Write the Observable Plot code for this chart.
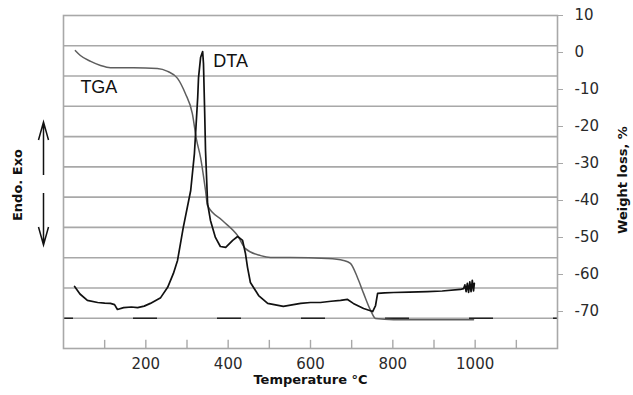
<!DOCTYPE html>
<html>
<head>
<meta charset="utf-8">
<script src="https://cdn.jsdelivr.net/npm/d3@7"></script>
<script src="https://cdn.jsdelivr.net/npm/@observablehq/plot@0.6"></script>
<style>
  html, body { margin: 0; padding: 0; background: #fff; }
  #chart svg { display: block; }
</style>
</head>
<body>
<div id="chart"></div>
<script>
// TGA: temperature (°C) and weight loss (%)
const tgaTemp = [29, 41, 66, 90, 114, 170, 228, 253, 277, 296, 313, 323, 333, 345, 350, 386, 423, 442, 479, 503, 551, 641, 680, 697, 714, 729, 746, 758, 802, 884, 996];
const tgaWeight = [0.5, -0.8, -2.4, -3.5, -4.1, -4.1, -4.3, -5.1, -7.0, -11.1, -16.5, -23.5, -28.4, -37.3, -41.4, -45.4, -49.5, -53.0, -54.9, -55.4, -55.4, -55.7, -56.2, -57.0, -60.8, -65.1, -69.7, -71.9, -72.2, -72.2, -72.2];

// DTA: temperature (°C) and signal (hidden left axis, grid units 0..11)
const dtaTemp = [27, 40, 58, 83, 100, 114, 124, 131, 146, 165, 180, 196, 211, 236, 253, 267, 277, 291, 309, 318, 326, 328, 333, 338, 340, 343, 345, 350, 357, 369, 381, 394, 411, 423, 435, 442, 447, 454, 474, 496, 534, 576, 600, 624, 650, 673, 690, 704, 729, 751, 758, 763, 780, 802, 840, 884, 920, 964, 972, 975, 978, 981, 984, 987, 990, 993, 996, 998];
const dtaSignal = [2.05, 1.80, 1.59, 1.52, 1.50, 1.49, 1.45, 1.29, 1.35, 1.37, 1.35, 1.40, 1.49, 1.68, 2.02, 2.48, 2.91, 4.00, 5.22, 6.44, 8.29, 8.95, 9.61, 9.81, 9.42, 7.76, 6.54, 4.79, 4.23, 3.67, 3.37, 3.34, 3.57, 3.70, 3.57, 3.14, 2.68, 2.18, 1.75, 1.49, 1.39, 1.49, 1.52, 1.52, 1.56, 1.59, 1.62, 1.49, 1.32, 1.22, 1.42, 1.82, 1.84, 1.85, 1.86, 1.88, 1.90, 1.95, 1.98, 2.10, 1.88, 2.15, 1.85, 2.20, 1.88, 2.25, 1.90, 2.15];

// Axis ticks
const xLabelTicks = [200, 400, 600, 800, 1000];
const xMinorTicks = [100, 200, 300, 400, 500, 600, 700, 800, 900, 1000, 1100];
const yTicks = [10, 0, -10, -20, -30, -40, -50, -60, -70];
const dtaGrid = [1, 2, 3, 4, 5, 6, 7, 8, 9, 10];

// map the hidden DTA axis (0..11) onto the weight-loss axis (-80..10)
const yMin = -80, yMax = 10, dtaMax = 11;
const dtaToY = d => yMin + d * (yMax - yMin) / dtaMax;

const tga = tgaTemp.map((t, i) => ({t, v: tgaWeight[i]}));
const dta = dtaTemp.map((t, i) => ({t, v: dtaToY(dtaSignal[i])}));
const grid = dtaGrid.map(dtaToY);

const gridColor = "#a8a8a8";
const textColor = "#2a2a2a";

const plot = Plot.plot({
  width: 633,
  height: 395,
  marginLeft: 63,
  marginRight: 76,
  marginTop: 15,
  marginBottom: 47,
  style: {fontFamily: "DejaVu Sans", fontSize: "15px", color: textColor, background: "#fff"},
  x: {domain: [0, 1200]},
  y: {domain: [yMin, yMax]},
  marks: [
    Plot.ruleY(grid, {stroke: gridColor, strokeWidth: 1.6}),
    Plot.ruleY([dtaToY(1)], {stroke: "#222", strokeWidth: 1.6, strokeDasharray: "24,60", strokeDashoffset: 14}),
    Plot.frame({stroke: gridColor, strokeWidth: 1.6}),
    Plot.ruleX(xMinorTicks, {x: d => d, y1: yMin, y2: yMin + 2.2, stroke: gridColor, strokeWidth: 1.4}),
    Plot.axisX({ticks: xLabelTicks, tickFormat: d => String(d), tickSize: 0, tickPadding: 10, label: null, fontSize: 15}),
    Plot.axisY({anchor: "right", ticks: yTicks, tickFormat: d => String(d), tickSize: 5, tickPadding: 12, label: null, stroke: gridColor, fontSize: 15}),
    Plot.line(tga, {x: "t", y: "v", stroke: "#5e5e5e", strokeWidth: 1.5, curve: "monotone-x"}),
    Plot.line(dta, {x: "t", y: "v", stroke: "#111", strokeWidth: 1.7, curve: "linear"}),
    Plot.text(["TGA"], {x: 41, y: -9.3, text: d => d, textAnchor: "start", fontFamily: "Liberation Sans", fontSize: 18, fill: "#111"}),
    Plot.text(["DTA"], {x: 364, y: -2.3, text: d => d, textAnchor: "start", fontFamily: "Liberation Sans", fontSize: 18, fill: "#111"}),
    Plot.text(["Temperature °C"], {frameAnchor: "bottom", dy: 35, text: d => d, textAnchor: "middle", fontWeight: "bold", fontSize: 13, fill: "#111"}),
    Plot.text(["Weight loss, %"], {frameAnchor: "right", dx: 65, dy: -2, rotate: -90, text: d => d, textAnchor: "middle", fontWeight: "bold", fontSize: 13, fill: "#111"}),
    Plot.text(["Endo. Exo"], {frameAnchor: "left", dx: -46, dy: 3, rotate: -90, text: d => d, textAnchor: "middle", fontWeight: "bold", fontSize: 13, fill: "#111"})
  ]
});

// Endo / Exo direction arrows in the left margin
const svg = d3.select(plot);
const g = svg.append("g").attr("fill", "none").attr("stroke", "#111").attr("stroke-width", 1.5);
g.append("path").attr("d", "M43.5,175 L43.5,123 M38.5,140 L43.5,122 L48.5,140");
g.append("path").attr("d", "M43.5,193 L43.5,244 M38.5,227 L43.5,245 L48.5,227");

document.getElementById("chart").appendChild(plot);
</script>
</body>
</html>
